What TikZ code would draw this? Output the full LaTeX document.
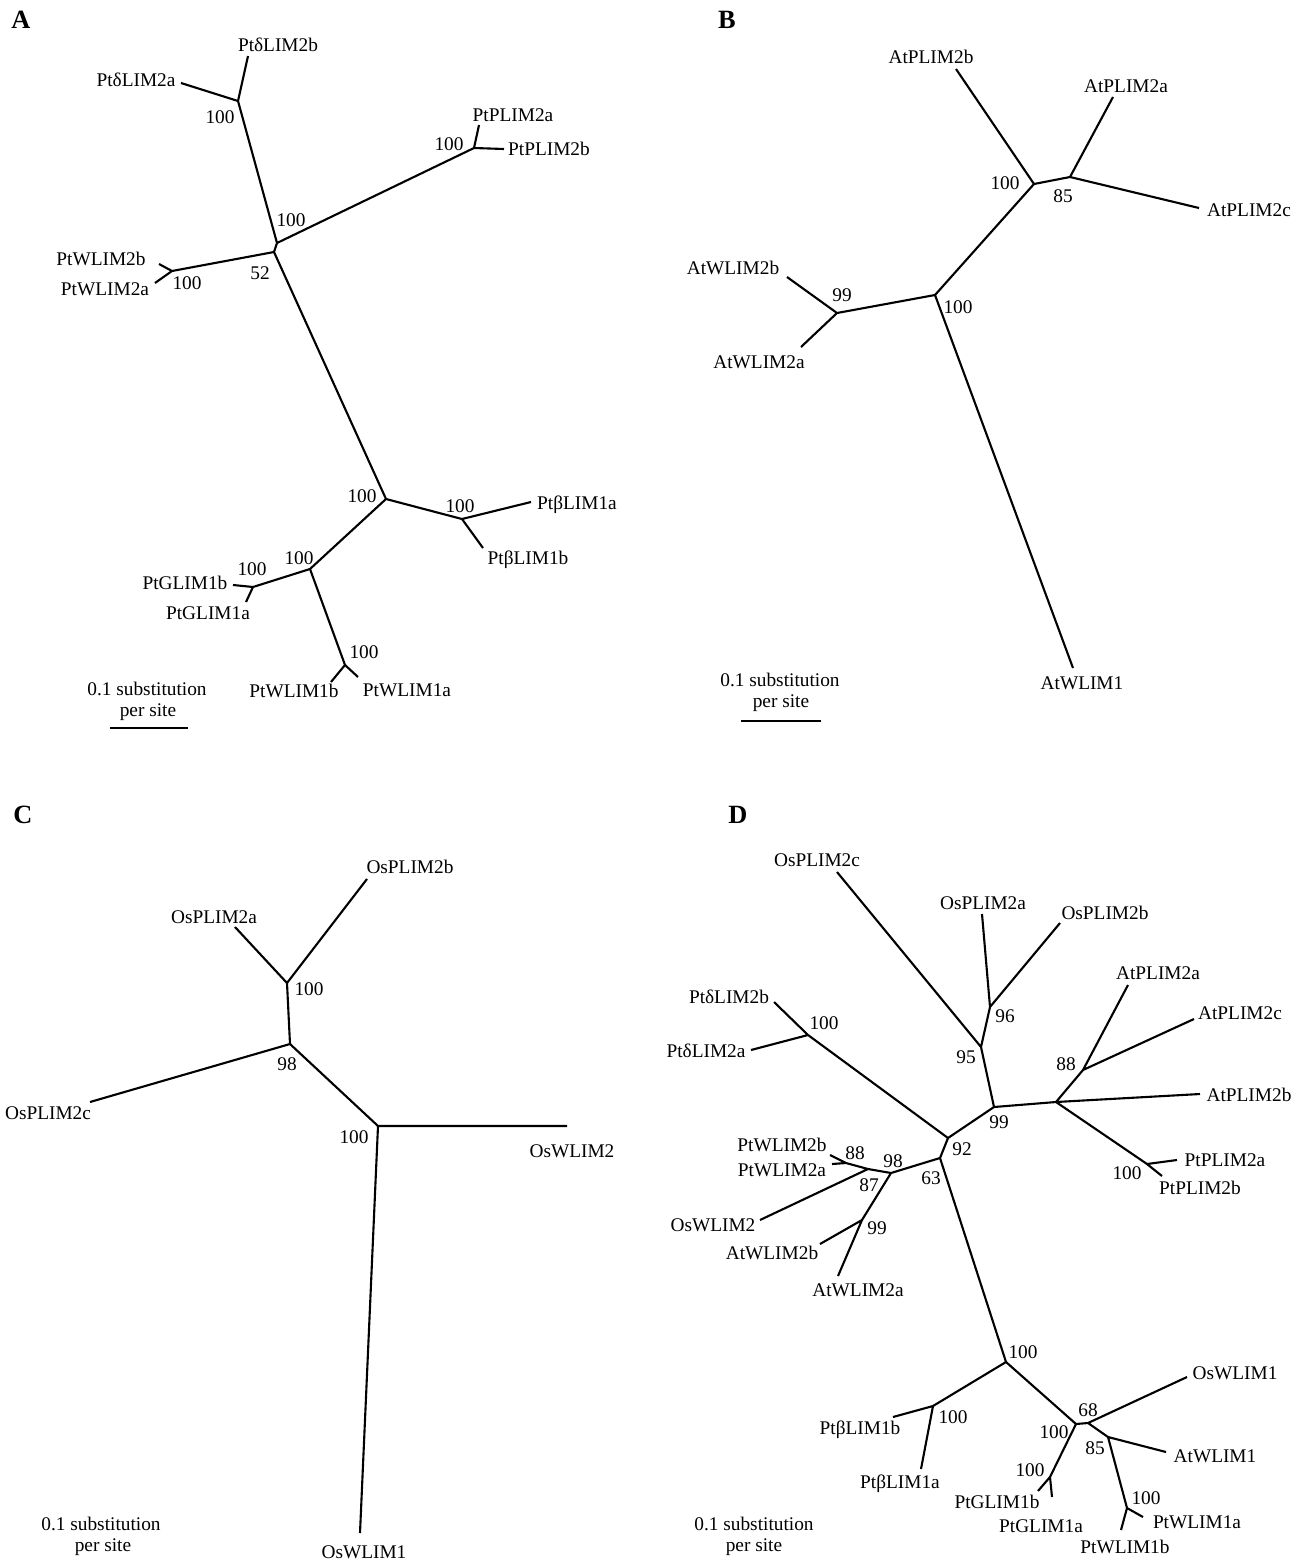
\documentclass[tikz,border=0pt]{standalone}
\usepackage{fontspec}
\setmainfont{Liberation Serif}
\tikzset{
  lim edge/.style={black,line width=1.2pt},
  lim label/.style={inner sep=0pt,font=\fontsize{11}{13}\selectfont},
  lim boot/.style={inner sep=0pt,font=\fontsize{11}{13}\selectfont},
  lim tag/.style={inner sep=0pt,font=\fontsize{15}{17}\selectfont\bfseries}
}
\newcommand{\limtip}[4]{%
  \coordinate (#1) at (#2);
  \node[lim label] (#1-l) at (#3) {#4};%
}

\begin{document}
\begin{tikzpicture}[x=0.02cm,y=-0.02cm]
  \useasboundingbox[fill=white] (0,0) rectangle (1300,1562);

  % panel A
  \node[lim tag] (tagA) at (21,20) {A};
  \coordinate (aN1) at (238,101);
  \coordinate (aN2) at (277,243);
  \coordinate (aN3) at (274,252);
  \coordinate (aN4) at (386,499);
  \coordinate (aN5) at (310,569);
  \coordinate (aP) at (474,148);
  \coordinate (aW2) at (172,271);
  \coordinate (aB) at (462,519);
  \coordinate (aG) at (253,587);
  \coordinate (aW1) at (345,665);
  \limtip{aD2b}{248,56}{278,45}{PtδLIM2b}
  \limtip{aD2a}{181,83}{136,80}{PtδLIM2a}
  \limtip{aP2a}{479,125}{513,115}{PtPLIM2a}
  \limtip{aP2b}{504,149}{549,149}{PtPLIM2b}
  \limtip{aW2b}{159,264}{101,259}{PtWLIM2b}
  \limtip{aW2a}{155,283}{105,289}{PtWLIM2a}
  \limtip{aB1a}{531,502}{577,505}{PtβLIM1a}
  \limtip{aB1b}{483,548}{528,560}{PtβLIM1b}
  \limtip{aG1b}{233,585}{185,583}{PtGLIM1b}
  \limtip{aG1a}{246,602}{208,613}{PtGLIM1a}
  \limtip{aW1b}{331,682}{294,691}{PtWLIM1b}
  \limtip{aW1a}{358,677}{407,690}{PtWLIM1a}
  \draw[lim edge] (aN1)--(aD2b) (aN1)--(aD2a) (aN1)--(aN2)
    (aN2)--(aP) (aP)--(aP2a) (aP)--(aP2b)
    (aN2)--(aN3) (aN3)--(aW2) (aW2)--(aW2b) (aW2)--(aW2a)
    (aN3)--(aN4) (aN4)--(aB) (aB)--(aB1a) (aB)--(aB1b)
    (aN4)--(aN5) (aN5)--(aG) (aG)--(aG1b) (aG)--(aG1a)
    (aN5)--(aW1) (aW1)--(aW1b) (aW1)--(aW1a);
  \node[lim boot] (aV1) at (220,117) {100};
  \node[lim boot] (aV2) at (291,220) {100};
  \node[lim boot] (aV3) at (260,273) {52};
  \node[lim boot] (aV4) at (449,144) {100};
  \node[lim boot] (aV5) at (187,283) {100};
  \node[lim boot] (aV6) at (362,496) {100};
  \node[lim boot] (aV7) at (460,506) {100};
  \node[lim boot] (aV8) at (299,558) {100};
  \node[lim boot] (aV9) at (252,569) {100};
  \node[lim boot] (aV10) at (364,652) {100};
  \node[lim label] (aS1) at (147,689) {0.1 substitution};
  \node[lim label] (aS2) at (148,712) {per site};
  \coordinate (aBarL) at (110,728);
  \coordinate (aBarR) at (188,728);
  \draw[lim edge,line width=0.9pt] (aBarL)--(aBarR);

  % panel B
  \node[lim tag] (tagB) at (727,20) {B};
  \coordinate (bN1) at (1034,184);
  \coordinate (bN2) at (1070,177);
  \coordinate (bN3) at (935,295);
  \coordinate (bW2) at (837,313);
  \limtip{bP2b}{956,69}{931,57}{AtPLIM2b}
  \limtip{bP2a}{1113,97}{1126,86}{AtPLIM2a}
  \limtip{bP2c}{1199,208}{1249,210}{AtPLIM2c}
  \limtip{bW2b}{787,277}{733,268}{AtWLIM2b}
  \limtip{bW2a}{801,347}{759,362}{AtWLIM2a}
  \limtip{bW1}{1073,668}{1082,683}{AtWLIM1}
  \draw[lim edge] (bN3)--(bN1) (bN1)--(bP2b) (bN1)--(bN2)
    (bN2)--(bP2a) (bN2)--(bP2c)
    (bN3)--(bW2) (bW2)--(bW2b) (bW2)--(bW2a) (bN3)--(bW1);
  \node[lim boot] (bV1) at (1005,183) {100};
  \node[lim boot] (bV2) at (1063,196) {85};
  \node[lim boot] (bV3) at (958,307) {100};
  \node[lim boot] (bV4) at (842,295) {99};
  \node[lim label] (bS1) at (780,680) {0.1 substitution};
  \node[lim label] (bS2) at (781,703) {per site};
  \coordinate (bBarL) at (741,721);
  \coordinate (bBarR) at (821,721);
  \draw[lim edge,line width=0.9pt] (bBarL)--(bBarR);

  % panel C
  \node[lim tag] (tagC) at (23,815) {C};
  \coordinate (cN1) at (287,983);
  \coordinate (cN2) at (290,1044);
  \coordinate (cN3) at (378,1126);
  \limtip{cP2b}{367,879}{410,867}{OsPLIM2b}
  \limtip{cP2a}{235,927}{214,917}{OsPLIM2a}
  \limtip{cP2c}{90,1102}{48,1113}{OsPLIM2c}
  \limtip{cW2}{567,1126}{572,1151}{OsWLIM2}
  \limtip{cW1}{360,1533}{364,1552}{OsWLIM1}
  \draw[lim edge] (cN1)--(cP2a) (cN1)--(cP2b) (cN1)--(cN2)
    (cN2)--(cP2c) (cN2)--(cN3) (cN3)--(cW2) (cN3)--(cW1);
  \node[lim boot] (cV1) at (309,989) {100};
  \node[lim boot] (cV2) at (287,1064) {98};
  \node[lim boot] (cV3) at (354,1137) {100};
  \node[lim label] (cS1) at (101,1524) {0.1 substitution};
  \node[lim label] (cS2) at (103,1547) {per site};

  % panel D
  \node[lim tag] (tagD) at (738,815) {D};
  \coordinate (dOs1) at (981,1047);
  \coordinate (dOs2) at (990,1007);
  \coordinate (dN99) at (994,1107);
  \coordinate (dAt) at (1056,1102);
  \coordinate (dAt88) at (1083,1070);
  \coordinate (dPP) at (1147,1164);
  \coordinate (dD) at (808,1035);
  \coordinate (dN92) at (948,1138);
  \coordinate (dN63) at (940,1158);
  \coordinate (dN98) at (891,1173);
  \coordinate (dN87) at (868,1169);
  \coordinate (dN88) at (846,1163);
  \coordinate (dAW2) at (862,1220);
  \coordinate (dN100) at (1006,1362);
  \coordinate (dB) at (933,1406);
  \coordinate (dL) at (1076,1424);
  \coordinate (dR) at (1088,1423);
  \coordinate (dN85) at (1108,1437);
  \coordinate (dG) at (1050,1477);
  \coordinate (dW1) at (1127,1508);
  \limtip{dOP2c}{837,872}{817,860}{OsPLIM2c}
  \limtip{dOP2a}{982,914}{983,903}{OsPLIM2a}
  \limtip{dOP2b}{1060,923}{1105,913}{OsPLIM2b}
  \limtip{dAP2a}{1128,985}{1158,973}{AtPLIM2a}
  \limtip{dAP2c}{1194,1019}{1240,1013}{AtPLIM2c}
  \limtip{dAP2b}{1200,1094}{1249,1095}{AtPLIM2b}
  \limtip{dPP2a}{1177,1160}{1225,1160}{PtPLIM2a}
  \limtip{dPP2b}{1162,1176}{1200,1188}{PtPLIM2b}
  \limtip{dD2b}{774,1002}{729,997}{PtδLIM2b}
  \limtip{dD2a}{751,1050}{706,1051}{PtδLIM2a}
  \limtip{dPW2b}{830,1155}{782,1145}{PtWLIM2b}
  \limtip{dPW2a}{832,1164}{782,1170}{PtWLIM2a}
  \limtip{dOW2}{760,1220}{713,1225}{OsWLIM2}
  \limtip{dAW2b}{820,1244}{772,1253}{AtWLIM2b}
  \limtip{dAW2a}{838,1276}{858,1290}{AtWLIM2a}
  \limtip{dB1b}{893,1417}{860,1430}{PtβLIM1b}
  \limtip{dB1a}{921,1469}{900,1484}{PtβLIM1a}
  \limtip{dOW1}{1187,1377}{1235,1373}{OsWLIM1}
  \limtip{dAW1}{1166,1452}{1215,1456}{AtWLIM1}
  \limtip{dG1b}{1038,1491}{997,1502}{PtGLIM1b}
  \limtip{dG1a}{1052,1497}{1041,1526}{PtGLIM1a}
  \limtip{dPW1a}{1143,1517}{1197,1522}{PtWLIM1a}
  \limtip{dPW1b}{1121,1530}{1125,1547}{PtWLIM1b}
  \draw[lim edge] (dOs1)--(dOP2c) (dOs1)--(dOs2) (dOs2)--(dOP2a) (dOs2)--(dOP2b)
    (dOs1)--(dN99) (dN99)--(dAt) (dAt)--(dAP2b) (dAt)--(dAt88)
    (dAt88)--(dAP2a) (dAt88)--(dAP2c) (dAt)--(dPP) (dPP)--(dPP2a) (dPP)--(dPP2b)
    (dN99)--(dN92) (dD)--(dN92) (dD)--(dD2b) (dD)--(dD2a)
    (dN92)--(dN63) (dN63)--(dN98) (dN98)--(dN87) (dN87)--(dN88)
    (dN88)--(dPW2b) (dN88)--(dPW2a) (dN87)--(dOW2)
    (dN98)--(dAW2) (dAW2)--(dAW2b) (dAW2)--(dAW2a)
    (dN63)--(dN100) (dN100)--(dB) (dB)--(dB1b) (dB)--(dB1a)
    (dN100)--(dL) (dL)--(dR) (dR)--(dOW1) (dR)--(dN85)
    (dN85)--(dAW1) (dN85)--(dW1) (dW1)--(dPW1a) (dW1)--(dPW1b)
    (dL)--(dG) (dG)--(dG1b) (dG)--(dG1a);
  \node[lim boot] (dV1) at (966,1057) {95};
  \node[lim boot] (dV2) at (1005,1016) {96};
  \node[lim boot] (dV3) at (999,1122) {99};
  \node[lim boot] (dV4) at (1066,1064) {88};
  \node[lim boot] (dV5) at (824,1023) {100};
  \node[lim boot] (dV6) at (1127,1173) {100};
  \node[lim boot] (dV7) at (962,1149) {92};
  \node[lim boot] (dV8) at (931,1178) {63};
  \node[lim boot] (dV9) at (855,1153) {88};
  \node[lim boot] (dV10) at (893,1161) {98};
  \node[lim boot] (dV11) at (869,1185) {87};
  \node[lim boot] (dV12) at (877,1228) {99};
  \node[lim boot] (dV13) at (1023,1352) {100};
  \node[lim boot] (dV14) at (953,1417) {100};
  \node[lim boot] (dV15) at (1088,1410) {68};
  \node[lim boot] (dV16) at (1054,1432) {100};
  \node[lim boot] (dV17) at (1095,1448) {85};
  \node[lim boot] (dV18) at (1030,1470) {100};
  \node[lim boot] (dV19) at (1146,1498) {100};
  \node[lim label] (dS1) at (754,1524) {0.1 substitution};
  \node[lim label] (dS2) at (754,1547) {per site};
\end{tikzpicture}
\end{document}
